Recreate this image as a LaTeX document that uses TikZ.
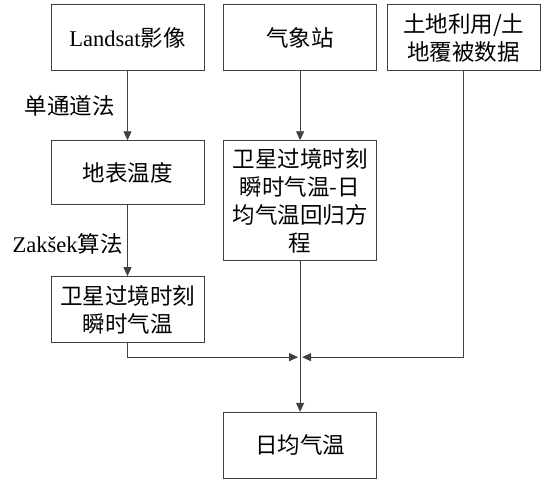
\documentclass[tikz,border=0pt]{standalone}
\usepackage{fontspec}
\setmainfont{Noto Sans CJK SC}
\newfontfamily\romanlat{Liberation Serif}
\usetikzlibrary{positioning}
\usetikzlibrary{arrows.meta}

\begin{document}
\begin{tikzpicture}[
      flowblock/.style={draw=black!75,line width=0.9bp,rectangle,minimum height=66bp,minimum width=153bp,
                        align=center,font=\fontsize{22.5bp}{28bp}\selectfont,inner sep=0pt},
      steplabel/.style={font=\fontsize{22.5bp}{28bp}\selectfont,inner sep=0pt},
      flowarrow/.style={draw=black!75,line width=0.9bp,-{Triangle[length=9bp,width=8bp]}}]
    \useasboundingbox (0,0) rectangle (550bp,-480bp);

    % Blocks
    \node[flowblock]                                       at (127.5bp,-37.5bp) (landsat) {{\romanlat Landsat}影像};
    \node[flowblock,right=18.7bp of landsat]                                   (station) {气象站};
    \node[flowblock,right=9.7bp of station]                                    (landuse) {土地利用/土\\地覆被数据};
    \node[flowblock,below=69.3bp of landsat,minimum height=64bp]               (lst)     {地表温度};
    \node[flowblock,below=69.3bp of station,minimum height=120bp]              (regress) {卫星过境时刻\\瞬时气温-日\\均气温回归方\\程};
    \node[flowblock,below=71bp of lst]                                         (inst)    {卫星过境时刻\\瞬时气温};
    \node[flowblock,below=150.7bp of regress]                                  (daily)   {日均气温};
    \coordinate[below=96bp of regress.south] (join);

    % Arrows
    \draw[flowarrow] (landsat) -- node[steplabel,left=12.5bp] (monowin) {单通道法} (lst);
    \draw[flowarrow] (lst) -- node[steplabel,left=4.5bp,yshift=-3.5bp] (zaksek) {{\romanlat Zakšek}算法} (inst);
    \draw[flowarrow] (station) -- (regress);
    \draw[flowarrow] (regress) -- (daily);
    \draw[flowarrow] (inst.south) |- ([xshift=-2bp]join);
    \draw[flowarrow] (landuse.south) |- ([xshift=2bp]join);

  \end{tikzpicture}
\end{document}
